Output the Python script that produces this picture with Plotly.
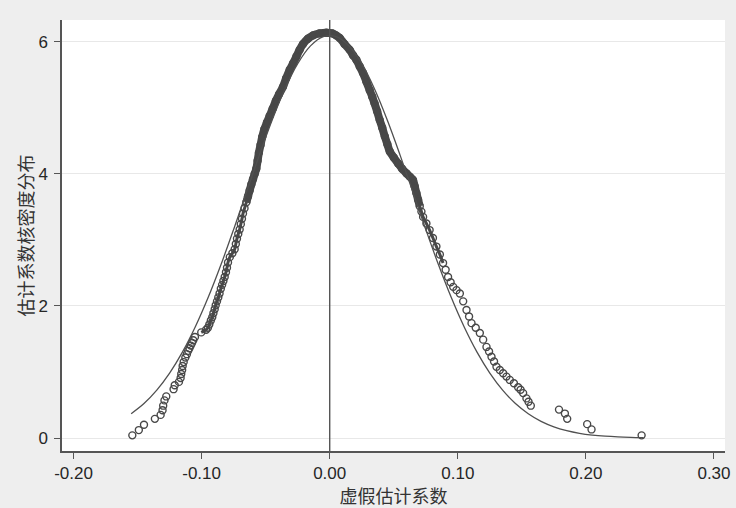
import plotly.graph_objects as go

# Kernel density of placebo coefficients
kd_x = [-0.1541, -0.1490, -0.1450, -0.1365, -0.1320, -0.1305, -0.1300, -0.1290, -0.1276, -0.1219,
        -0.1210, -0.1177, -0.1164, -0.1159, -0.1152, -0.1148, -0.1140, -0.1127, -0.1115, -0.1105,
        -0.1095, -0.1085, -0.1075, -0.1065, -0.1052, -0.1003, -0.0965, -0.0951, -0.0940, -0.0928,
        -0.0917, -0.0908, -0.0898, -0.0890, -0.0880, -0.0870, -0.0860, -0.0850, -0.0840, -0.0830,
        -0.0820, -0.0810, -0.0802, -0.0794, -0.0780, -0.0760, -0.0742, -0.0733, -0.0724, -0.0714,
        -0.0703, -0.0694, -0.0685, -0.0677, -0.0665, -0.0651, -0.0638, -0.0625, -0.0612, -0.0599,
        -0.0586, -0.0573, -0.0563, -0.0553, -0.0540, -0.0527, -0.0510, -0.0490, -0.0469, -0.0445,
        -0.0420, -0.0395, -0.0365, -0.0340, -0.0312, -0.0285, -0.0260, -0.0235, -0.0208, -0.0170,
        -0.0130, -0.0080, -0.0026, 0.0020, 0.0050, 0.0078, 0.0115, 0.0156, 0.0182, 0.0208,
        0.0234, 0.0260, 0.0286, 0.0312, 0.0332, 0.0350, 0.0370, 0.0390, 0.0410, 0.0430,
        0.0450, 0.0469, 0.0500, 0.0534, 0.0565, 0.0599, 0.0625, 0.0650, 0.0664, 0.0677,
        0.0690, 0.0703, 0.0716, 0.0729, 0.0755, 0.0780, 0.0806, 0.0833, 0.0860, 0.0885,
        0.0905, 0.0924, 0.0944, 0.0964, 0.0990, 0.1016, 0.1042, 0.1068, 0.1088, 0.1107,
        0.1140, 0.1172, 0.1198, 0.1224, 0.1244, 0.1263, 0.1283, 0.1302, 0.1328, 0.1354,
        0.1380, 0.1406, 0.1438, 0.1471, 0.1490, 0.1510, 0.1536, 0.1552, 0.1570, 0.1790,
        0.1836, 0.1854, 0.2010, 0.2044, 0.2435]
kd_y = [0.04, 0.12, 0.20, 0.29, 0.35, 0.42, 0.49, 0.57, 0.63, 0.74,
        0.80, 0.85, 0.91, 0.97, 1.03, 1.09, 1.15, 1.22, 1.27, 1.32,
        1.36, 1.40, 1.44, 1.48, 1.53, 1.60, 1.64, 1.67, 1.72, 1.78,
        1.83, 1.89, 1.95, 2.01, 2.07, 2.13, 2.19, 2.26, 2.32, 2.38,
        2.44, 2.51, 2.58, 2.66, 2.74, 2.80, 2.86, 2.94, 3.02, 3.09,
        3.16, 3.24, 3.32, 3.40, 3.48, 3.57, 3.66, 3.75, 3.84, 3.92,
        4.00, 4.08, 4.20, 4.32, 4.44, 4.56, 4.68, 4.78, 4.88, 4.99,
        5.11, 5.21, 5.32, 5.45, 5.58, 5.68, 5.78, 5.88, 5.97, 6.05,
        6.10, 6.13, 6.14, 6.13, 6.10, 6.06, 5.97, 5.88, 5.80, 5.73,
        5.63, 5.53, 5.40, 5.27, 5.17, 5.07, 4.95, 4.82, 4.70, 4.57,
        4.45, 4.34, 4.25, 4.16, 4.08, 4.01, 3.96, 3.91, 3.81, 3.71,
        3.61, 3.51, 3.43, 3.35, 3.25, 3.15, 3.03, 2.90, 2.78, 2.65,
        2.55, 2.44, 2.36, 2.29, 2.24, 2.19, 2.07, 1.94, 1.84, 1.74,
        1.67, 1.59, 1.49, 1.38, 1.31, 1.23, 1.16, 1.08, 1.03, 0.98,
        0.93, 0.88, 0.83, 0.77, 0.73, 0.68, 0.60, 0.55, 0.49, 0.43,
        0.37, 0.29, 0.21, 0.13, 0.04]

# Normal reference density
nd_x = [-0.155, -0.145, -0.135, -0.125, -0.115, -0.105, -0.095, -0.085, -0.075, -0.065,
        -0.055, -0.045, -0.035, -0.025, -0.015, -0.005, 0.005, 0.015, 0.025, 0.035,
        0.045, 0.055, 0.065, 0.075, 0.085, 0.095, 0.105, 0.115, 0.125, 0.135,
        0.145, 0.155, 0.165, 0.175, 0.185, 0.195, 0.205, 0.215, 0.225, 0.235, 0.245]
nd_y = [0.368, 0.522, 0.725, 0.983, 1.300, 1.681, 2.123, 2.620, 3.160, 3.722,
        4.282, 4.813, 5.287, 5.671, 5.941, 6.082, 6.082, 5.941, 5.671, 5.287,
        4.813, 4.282, 3.722, 3.160, 2.620, 2.123, 1.681, 1.300, 0.983, 0.725,
        0.522, 0.368, 0.253, 0.170, 0.112, 0.0716, 0.0448, 0.0275, 0.0164, 0.0096, 0.0055]

x_ticks = [-0.2, -0.1, 0.0, 0.1, 0.2, 0.3]
x_ticklabels = ["-0.20", "-0.10", "0.00", "0.10", "0.20", "0.30"]
y_ticks = [0, 2, 4, 6]
y_ticklabels = ["0", "2", "4", "6"]
true_coef = 0.0

x_title = "虚假估计系数"
y_title = "估计系数核密度分布"

DARK = "#484848"

pts = list(zip(kd_x, kd_y))
# dense core of the circle band (solid) and the overlapping chain around it
core = [(x, y) for x, y in pts if y >= 3.45 and -0.066 <= x <= 0.072]
chain = [(x, y) for x, y in pts if (x < 0 and y >= 1.6) or (x >= 0 and y >= 2.6)]

fig = go.Figure()
fig.add_trace(go.Scatter(
    x=[p[0] for p in chain], y=[p[1] for p in chain], mode="lines",
    line=dict(color=DARK, width=3, shape="spline"), hoverinfo="skip", showlegend=False))
fig.add_trace(go.Scatter(
    x=[p[0] for p in core], y=[p[1] for p in core], mode="lines",
    line=dict(color=DARK, width=8, shape="spline"), hoverinfo="skip", showlegend=False))
fig.add_trace(go.Scatter(
    x=kd_x, y=kd_y, mode="markers",
    marker=dict(symbol="circle-open", size=7, color=DARK, line=dict(width=1.4, color=DARK)),
    showlegend=False))
fig.add_trace(go.Scatter(
    x=nd_x, y=nd_y, mode="lines",
    line=dict(color="#505050", width=1.3, shape="spline", smoothing=1.0),
    showlegend=False))

fig.add_shape(type="line", x0=true_coef, x1=true_coef, y0=0, y1=1, xref="x", yref="paper",
              line=dict(color="#555555", width=1.4))

tick_font = dict(family="Liberation Sans, Arial, sans-serif", size=17, color="#262626")
title_font = dict(family="Noto Sans CJK SC, sans-serif", size=18, color="#333333")

fig.update_layout(
    width=736, height=508,
    margin=dict(l=62, r=11, t=20, b=57, autoexpand=False),
    paper_bgcolor="#eeeeee", plot_bgcolor="#ffffff",
    xaxis=dict(range=[-0.209, 0.3086], tickvals=x_ticks, ticktext=x_ticklabels,
               showgrid=False, zeroline=False, showline=True, linecolor="#555555", linewidth=1.5,
               ticks="outside", ticklen=6, tickwidth=1.3, tickcolor="#555555",
               tickfont=tick_font, automargin=False,
               title=dict(text=x_title, font=title_font, standoff=2)),
    yaxis=dict(range=[-0.197, 6.333], tickvals=y_ticks, ticktext=y_ticklabels,
               showgrid=True, gridcolor="#e8e8e8", gridwidth=1, zeroline=False,
               showline=True, linecolor="#555555", linewidth=1.5,
               ticks="outside", ticklen=6, tickwidth=1.3, tickcolor="#555555",
               tickfont=tick_font, automargin=False, ticklabelstandoff=3,
               title=dict(text=y_title, font=title_font, standoff=0)),
)

fig.write_html("out.html", config={"displayModeBar": False},
               post_script="document.body.style.margin='0';document.body.style.padding='0';")
